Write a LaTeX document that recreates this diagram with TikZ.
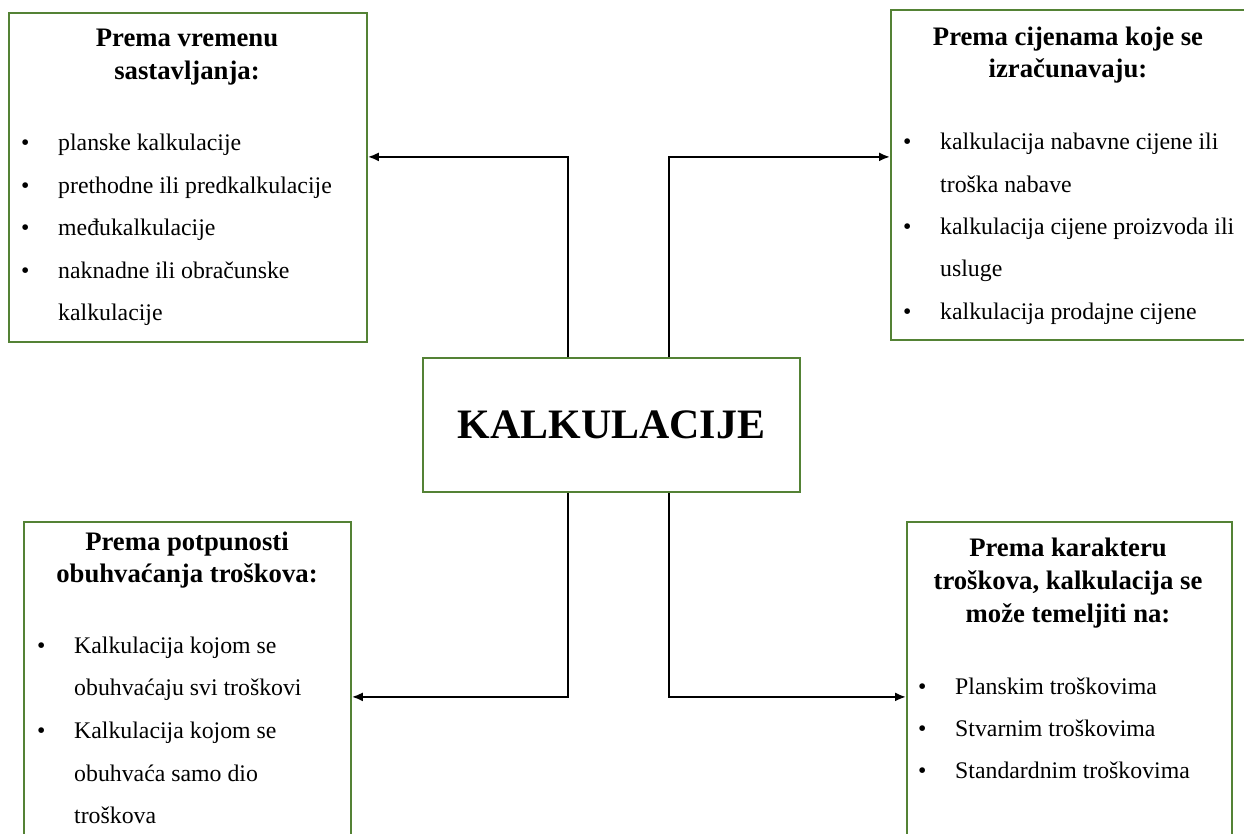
\documentclass[tikz,border=0pt]{standalone}
\usepackage{fontspec}
\setmainfont{Liberation Serif}
\usepackage{tikz}
\usetikzlibrary{arrows.meta}
\definecolor{cBox}{RGB}{84,130,53}

\begin{document}
\begin{tikzpicture}[x=1pt,y=-1pt,
  box/.style={draw=cBox,line width=1.8pt,inner sep=0pt,anchor=north west},
  head/.style={anchor=base,inner sep=0pt,font=\fontsize{26.7}{33}\selectfont\bfseries},
  item/.style={anchor=base west,inner sep=0pt,font=\fontsize{23.8}{42.5}\selectfont},
  arr/.style={line width=2pt,-{Latex[length=11pt,width=9pt]}}]
\useasboundingbox (0,0) rectangle (1244,833);
% boxes
\node[box,minimum width=358pt,minimum height=329pt] (vrijeme) at (8,12) {};
\node[box,minimum width=370pt,minimum height=330pt] (cijene) at (890,9) {};
\node[box,minimum width=327pt,minimum height=330pt] (obuhvat) at (23,521) {};
\node[box,minimum width=325pt,minimum height=330pt] (karakter) at (906,521) {};
\node[box,minimum width=377pt,minimum height=134pt,font=\fontsize{41.9}{50}\selectfont\bfseries] (kalk) at (422,357) {KALKULACIJE};
% top left
\node[head] (v-h1) at (187,46) {Prema vremenu};
\node[head] (v-h2) at (187,79) {sastavljanja:};
\node[item] (v-b1) at (21,150) {\makebox[37pt][l]{\textbullet}planske kalkulacije};
\node[item] (v-b2) at (21,193) {\makebox[37pt][l]{\textbullet}prethodne ili predkalkulacije};
\node[item] (v-b3) at (21,235) {\makebox[37pt][l]{\textbullet}međukalkulacije};
\node[item] (v-b4) at (21,278) {\makebox[37pt][l]{\textbullet}naknadne ili obračunske};
\node[item] (v-b5) at (58,320) {kalkulacije};
% top right
\node[head] (c-h1) at (1068,45) {Prema cijenama koje se};
\node[head] (c-h2) at (1068,77) {izračunavaju:};
\node[item] (c-b1) at (903,149) {\makebox[37pt][l]{\textbullet}kalkulacija nabavne cijene ili};
\node[item] (c-b2) at (940,192) {troška nabave};
\node[item] (c-b3) at (903,234) {\makebox[37pt][l]{\textbullet}kalkulacija cijene proizvoda ili};
\node[item] (c-b4) at (940,276) {usluge};
\node[item] (c-b5) at (903,319) {\makebox[37pt][l]{\textbullet}kalkulacija prodajne cijene};
% bottom left
\node[head] (o-h1) at (187,550) {Prema potpunosti};
\node[head] (o-h2) at (187,582) {obuhvaćanja troškova:};
\node[item] (o-b1) at (37,653) {\makebox[37pt][l]{\textbullet}Kalkulacija kojom se};
\node[item] (o-b2) at (74,695) {obuhvaćaju svi troškovi};
\node[item] (o-b3) at (37,738) {\makebox[37pt][l]{\textbullet}Kalkulacija kojom se};
\node[item] (o-b4) at (74,781) {obuhvaća samo dio};
\node[item] (o-b5) at (74,823) {troškova};
% bottom right
\node[head] (k-h1) at (1068,556) {Prema karakteru};
\node[head] (k-h2) at (1068,589) {troškova, kalkulacija se};
\node[head] (k-h3) at (1068,622) {može temeljiti na:};
\node[item] (k-b1) at (918,694) {\makebox[37pt][l]{\textbullet}Planskim troškovima};
\node[item] (k-b2) at (918,736) {\makebox[37pt][l]{\textbullet}Stvarnim troškovima};
\node[item] (k-b3) at (918,778) {\makebox[37pt][l]{\textbullet}Standardnim troškovima};
% connectors
\draw[arr] ([xshift=-43.5pt]kalk.north) |- ([yshift=20.5pt]vrijeme.east);
\draw[arr] ([xshift=57.5pt]kalk.north) |- ([yshift=18pt]cijene.west);
\draw[arr] ([xshift=-43.5pt]kalk.south) |- ([yshift=-10pt]obuhvat.east);
\draw[arr] ([xshift=57.5pt]kalk.south) |- ([yshift=-10pt]karakter.west);
\end{tikzpicture}
\end{document}
